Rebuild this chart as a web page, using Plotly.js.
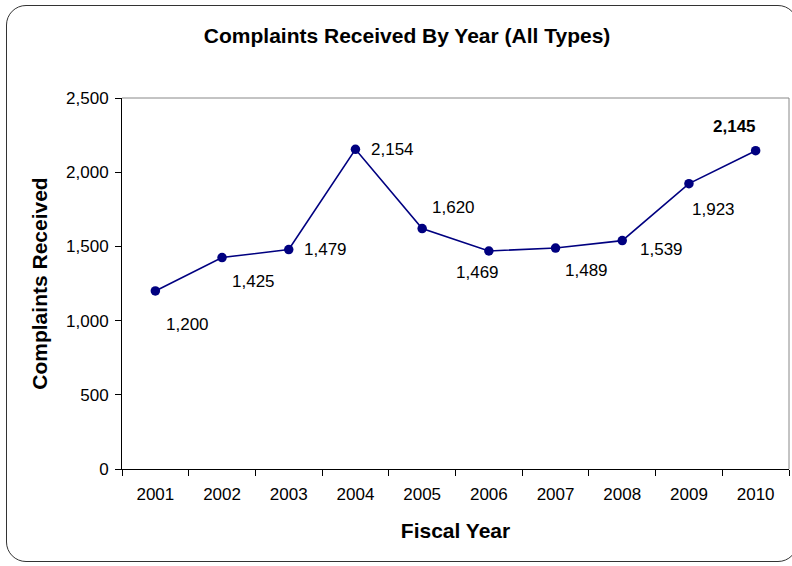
<!DOCTYPE html>
<html><head><meta charset="utf-8">
<script src="https://cdn.plot.ly/plotly-3.0.1.min.js"></script>
<style>
html,body{margin:0;padding:0;background:#fff;}
#wrap{position:relative;width:792px;height:566px;overflow:hidden;}
#chart{position:absolute;left:0;top:0;width:792px;height:566px;}
#frame{position:absolute;left:6px;top:5px;width:790px;height:555px;border:1.5px solid #333;border-radius:20px;pointer-events:none;z-index:5;}
</style></head>
<body><div id="wrap"><div id="chart"></div><div id="frame"></div></div>
<script>
const years = ['2001','2002','2003','2004','2005','2006','2007','2008','2009','2010'];
const complaints = [1200,1425,1479,2154,1620,1469,1489,1539,1923,2145];
const labelText = ['1,200','1,425','1,479','2,154','1,620','1,469','1,489','1,539','1,923','2,145'];
const yTickVals = [0,500,1000,1500,2000,2500];
const yTickText = ['0','500','1,000','1,500','2,000','2,500'];
// label offsets in pixels (style only)
const dxs = [32,31,37,37,31,-11,31,39,25,-21];
const dys = [-34,-24,0,0,21,-21,-22,-9,-26,24];

const FONT = 'Arial, Liberation Sans, sans-serif';
const annotations = years.map((y,i)=>({
  x:i, y:complaints[i], xref:'x', yref:'y', text: i===9 ? '<b>'+labelText[i]+'</b>' : labelText[i],
  showarrow:false, xshift:dxs[i], yshift:dys[i],
  font:{family:FONT, size:17, color:'#000'}
}));

const trace = {
  x: years, y: complaints, type:'scatter', mode:'lines+markers',
  line:{color:'#000080', width:1.6},
  marker:{color:'#000080', size:9.5},
  hoverinfo:'none'
};

const layout = {
  width:792, height:566,
  margin:{l:122, r:3, t:98, b:97},
  paper_bgcolor:'#fff', plot_bgcolor:'#fff',
  showlegend:false,
  title:{text:'<b>Complaints Received By Year (All Types)</b>', x:0.514, xanchor:'center', y:0.937, yanchor:'middle',
         font:{family:FONT, size:21, color:'#000'}},
  xaxis:{type:'category', showgrid:false, zeroline:false, showline:true, linecolor:'#000', linewidth:1,
         ticks:'outside', ticklen:6, tickcolor:'#000', tickson:'boundaries', range:[-0.5,9.5],
         ticklabelstandoff:10,
         tickfont:{family:FONT, size:17, color:'#000'},
         title:{text:'<b>Fiscal Year</b>', standoff:19, font:{family:FONT, size:21, color:'#000'}}},
  yaxis:{range:[0,2500], showgrid:false, zeroline:false, showline:true, linecolor:'#000', linewidth:1,
         ticks:'outside', ticklen:6, tickcolor:'#000', tickvals:yTickVals, ticktext:yTickText,
         ticklabelstandoff:3,
         tickfont:{family:FONT, size:17, color:'#000'},
         title:{text:'<b>Complaints Received</b>', standoff:12, font:{family:FONT, size:21, color:'#000'}}},
  shapes:[{type:'line', xref:'paper', yref:'paper', x0:0, x1:1, y0:1, y1:1, line:{color:'#888', width:1}},
          {type:'line', xref:'paper', yref:'paper', x0:1, x1:1, y0:0, y1:1, line:{color:'#888', width:1}}],
  annotations: annotations
};
Plotly.newPlot('chart',[trace],layout,{displayModeBar:false, staticPlot:true});
</script></body></html>
